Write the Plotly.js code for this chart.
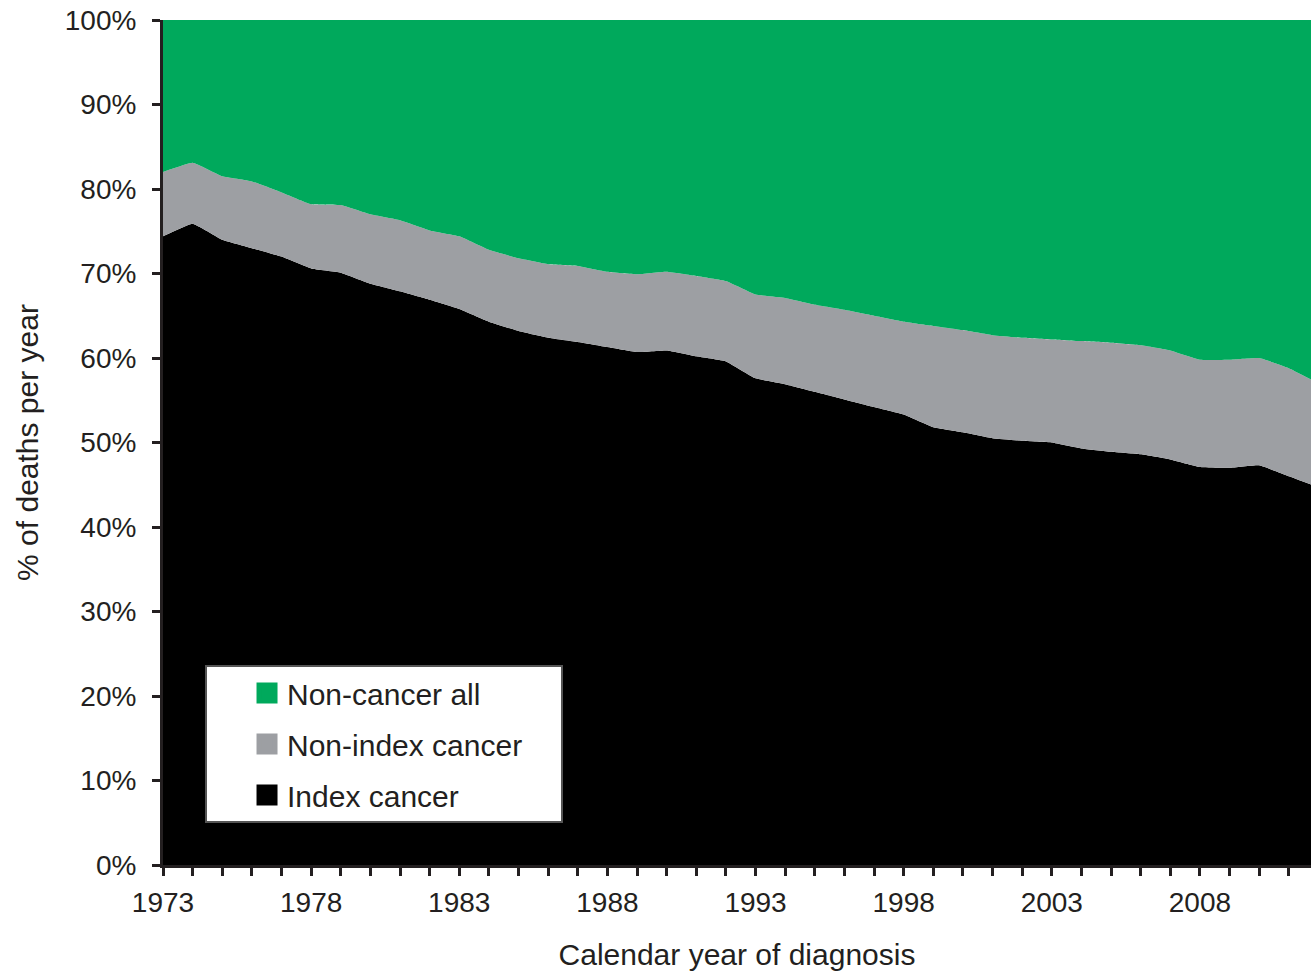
<!DOCTYPE html>
<html>
<head>
<meta charset="utf-8">
<script src="https://cdn.plot.ly/plotly-3.0.1.min.js"></script>
<style>html,body{margin:0;padding:0;background:#fff;}#chart{width:1311px;height:973px;}</style>
</head>
<body>
<div id="chart"></div>
<script>
// Calendar year of diagnosis
const years = [1973,1974,1975,1976,1977,1978,1979,1980,1981,1982,1983,1984,1985,1986,1987,1988,1989,1990,1991,1992,1993,1994,1995,1996,1997,1998,1999,2000,2001,2002,2003,2004,2005,2006,2007,2008,2009,2010,2011,2012];
// % of deaths per year
const indexCancer = [74.4,75.9,74.0,73.0,72.0,70.6,70.1,68.8,67.9,66.9,65.8,64.3,63.2,62.4,61.9,61.3,60.7,60.9,60.2,59.6,57.6,56.9,56.0,55.1,54.2,53.3,51.8,51.2,50.5,50.2,50.0,49.3,48.9,48.6,48.0,47.1,47.0,47.3,46.0,44.7];
const nonIndexCancer = [7.6,7.2,7.5,7.9,7.6,7.6,8.0,8.2,8.4,8.2,8.6,8.5,8.6,8.7,9.0,8.9,9.2,9.3,9.5,9.5,9.9,10.2,10.3,10.6,10.8,11.0,12.0,12.1,12.2,12.2,12.2,12.7,12.9,12.9,12.9,12.7,12.8,12.7,12.8,12.3];
const nonCancerAll = [18.0,16.9,18.5,19.1,20.4,21.8,21.9,23.0,23.7,24.9,25.6,27.2,28.2,28.9,29.1,29.8,30.1,29.8,30.3,30.9,32.5,32.9,33.7,34.3,35.0,35.7,36.2,36.7,37.3,37.6,37.8,38.0,38.2,38.5,39.1,40.2,40.2,40.0,41.2,43.0];

const seriesNames = ['Index cancer','Non-index cancer','Non-cancer all'];
const seriesColors = ['#000000','#9d9fa3','#00a95c'];
const seriesValues = [indexCancer, nonIndexCancer, nonCancerAll];

const textColor = '#231f20';
const fontFamily = '"Liberation Sans", Arial, Helvetica, sans-serif';
const legendPad = '\u00a0\u00a0\u00a0\u00a0';

const traces = [];
seriesValues.forEach((vals, i) => {
  traces.push({
    x: years, y: vals, type: 'scatter', mode: 'lines',
    stackgroup: 'deaths',
    line: {width: 0, shape: 'spline', smoothing: 0.3},
    fillcolor: seriesColors[i],
    name: seriesNames[i], showlegend: false, hoverinfo: 'skip'
  });
});
// legend entries (square swatches), top to bottom
[2,1,0].forEach((i, k) => {
  traces.push({
    x: [null], y: [null], type: 'scatter', mode: 'markers',
    marker: {symbol: 'square', size: 16, color: seriesColors[i], line: {width: 5, color: seriesColors[i]}},
    name: seriesNames[i] + legendPad, legendgroup: 'g' + k, showlegend: true
  });
});

const layout = {
  width: 1311, height: 973,
  margin: {l: 163, r: 0, t: 20, b: 108},
  paper_bgcolor: '#ffffff', plot_bgcolor: '#ffffff',
  font: {family: fontFamily, color: textColor, size: 28},
  showlegend: true,
  legend: {
    x: 0.0366, y: 0.2367, xanchor: 'left', yanchor: 'top',
    bgcolor: '#ffffff', bordercolor: '#555555', borderwidth: 2,
    font: {family: fontFamily, size: 30, color: textColor},
    traceorder: 'grouped', tracegroupgap: 9, indentation: 40,
    itemclick: false
  },
  xaxis: {
    range: [1973, 2011.75], tick0: 1973, dtick: 5,
    ticks: 'outside', ticklen: 8, tickwidth: 3, tickcolor: textColor,
    minor: {dtick: 1, ticks: 'outside', ticklen: 8, tickwidth: 3, tickcolor: textColor},
    showline: true, linewidth: 3, linecolor: textColor,
    showgrid: false, zeroline: false,
    tickfont: {size: 28, color: textColor},
    ticklabelstandoff: 2,
    title: {text: 'Calendar year of diagnosis', font: {size: 30, color: textColor}, standoff: 28}
  },
  yaxis: {
    range: [0, 100], dtick: 10, ticksuffix: '%',
    ticks: 'outside', ticklen: 8, tickwidth: 3, tickcolor: textColor,
    showline: true, linewidth: 3, linecolor: textColor,
    showgrid: false, zeroline: false,
    tickfont: {size: 28, color: textColor},
    ticklabelstandoff: 10,
    title: {text: '% of deaths per year', font: {size: 30, color: textColor}, standoff: 18}
  }
};

Plotly.newPlot('chart', traces, layout, {displayModeBar: false, staticPlot: true});
</script>
</body>
</html>
